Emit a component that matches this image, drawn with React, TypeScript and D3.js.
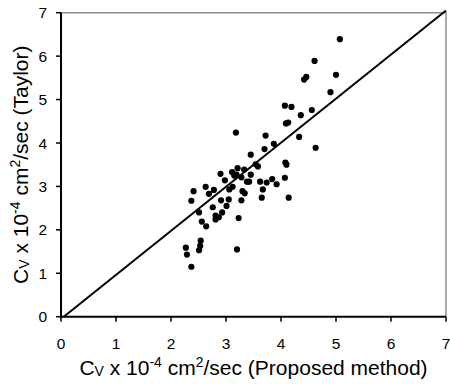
import React from "react";
import * as d3 from "d3";

const proposed = [5.07,4.61,4.42,4.46,5.00,4.90,4.07,4.19,4.56,4.36,4.09,4.13,4.33,4.63,3.18,3.72,3.87,3.70,3.45,3.54,3.58,4.08,4.10,4.07,4.14,3.84,3.92,3.74,3.62,3.67,3.65,3.45,3.38,3.42,3.33,3.28,3.21,3.11,3.19,3.15,3.30,3.34,3.28,3.23,3.20,2.90,2.98,3.12,3.06,3.05,2.91,3.01,2.93,2.87,2.81,2.81,2.78,2.69,2.63,2.76,2.51,2.56,2.64,2.41,2.37,2.54,2.53,2.51,2.27,2.29,2.37];
const taylor = [6.39,5.89,5.46,5.52,5.57,5.17,4.86,4.83,4.76,4.64,4.45,4.47,4.14,3.89,4.24,4.17,3.98,3.86,3.73,3.51,3.46,3.55,3.50,3.20,2.74,3.17,3.05,3.09,3.11,2.93,2.74,3.27,3.11,3.11,3.39,3.21,3.42,3.33,3.27,3.25,2.89,2.84,2.68,2.27,1.55,3.29,3.14,2.99,2.93,2.70,2.68,2.55,2.40,2.29,2.24,2.33,2.92,2.83,2.99,2.52,2.40,2.19,2.08,2.89,2.67,1.75,1.63,1.53,1.59,1.43,1.15];
const lineX = [0.05, 7];
const lineY = [0, 7.05];
const ticks = [0, 1, 2, 3, 4, 5, 6, 7];

export default function App() {
  const x = d3.scaleLinear().domain([0, 7]).range([61, 446]);
  const y = d3.scaleLinear().domain([0, 7]).range([316.7, 12.7]);
  const line = d3.line<number>().x((d, i) => x(lineX[i])).y((d, i) => y(lineY[i]));
  const font = "Liberation Sans, Arial, sans-serif";
  return (
    <svg width={450} height={385} style={{ position: "absolute", left: 0, top: 0 }} fontFamily={font}>
      <rect x={0} y={0} width={450} height={385} fill="#fff" />
      {/* gray frame */}
      <path d={`M${x(0)},${y(7)}H${x(7)}V${y(0)}`} fill="none" stroke="#8c8c8c" strokeWidth={1.5} />
      {/* axes */}
      <line x1={x(0)} x2={x(0)} y1={y(7)} y2={y(0) + 1} stroke="#000" strokeWidth={2} />
      <line x1={x(0) - 1} x2={x(7)} y1={y(0)} y2={y(0)} stroke="#000" strokeWidth={2} />
      {ticks.map((t) => (
        <g key={"t" + t}>
          <line x1={x(0) - 5} x2={x(0)} y1={y(t)} y2={y(t)} stroke="#000" strokeWidth={1.5} />
          <line x1={x(t)} x2={x(t)} y1={y(0)} y2={y(0) + 5} stroke="#000" strokeWidth={1.5} />
          <text x={47} y={y(t)} dy="0.36em" textAnchor="end" fontSize={15.5}>{t}</text>
          <text x={x(t)} y={348.5} textAnchor="middle" fontSize={15.5}>{t}</text>
        </g>
      ))}
      {proposed.map((p, i) => (
        <circle key={i} cx={x(p)} cy={y(taylor[i])} r={3.1} fill="#000" />
      ))}
      <path d={line(lineX) || ""} fill="none" stroke="#000" strokeWidth={2} />
      <text x={253.5} y={375} textAnchor="middle" fontSize={21}>
        C<tspan fontSize={14} dy={1}>V</tspan>
        <tspan dy={-1}> x 10</tspan>
        <tspan fontSize={14} dy={-8}>-4</tspan>
        <tspan dy={8}> cm</tspan>
        <tspan fontSize={14} dy={-8}>2</tspan>
        <tspan dy={8}>/sec (Proposed method)</tspan>
      </text>
      <text transform={`translate(28,${(y(0) + y(7)) / 2}) rotate(-90)`} textAnchor="middle" fontSize={21}>
        C<tspan fontSize={14} dy={1}>V</tspan>
        <tspan dy={-1}> x 10</tspan>
        <tspan fontSize={14} dy={-8}>-4</tspan>
        <tspan dy={8}> cm</tspan>
        <tspan fontSize={14} dy={-8}>2</tspan>
        <tspan dy={8}>/sec (Taylor)</tspan>
      </text>
    </svg>
  );
}
